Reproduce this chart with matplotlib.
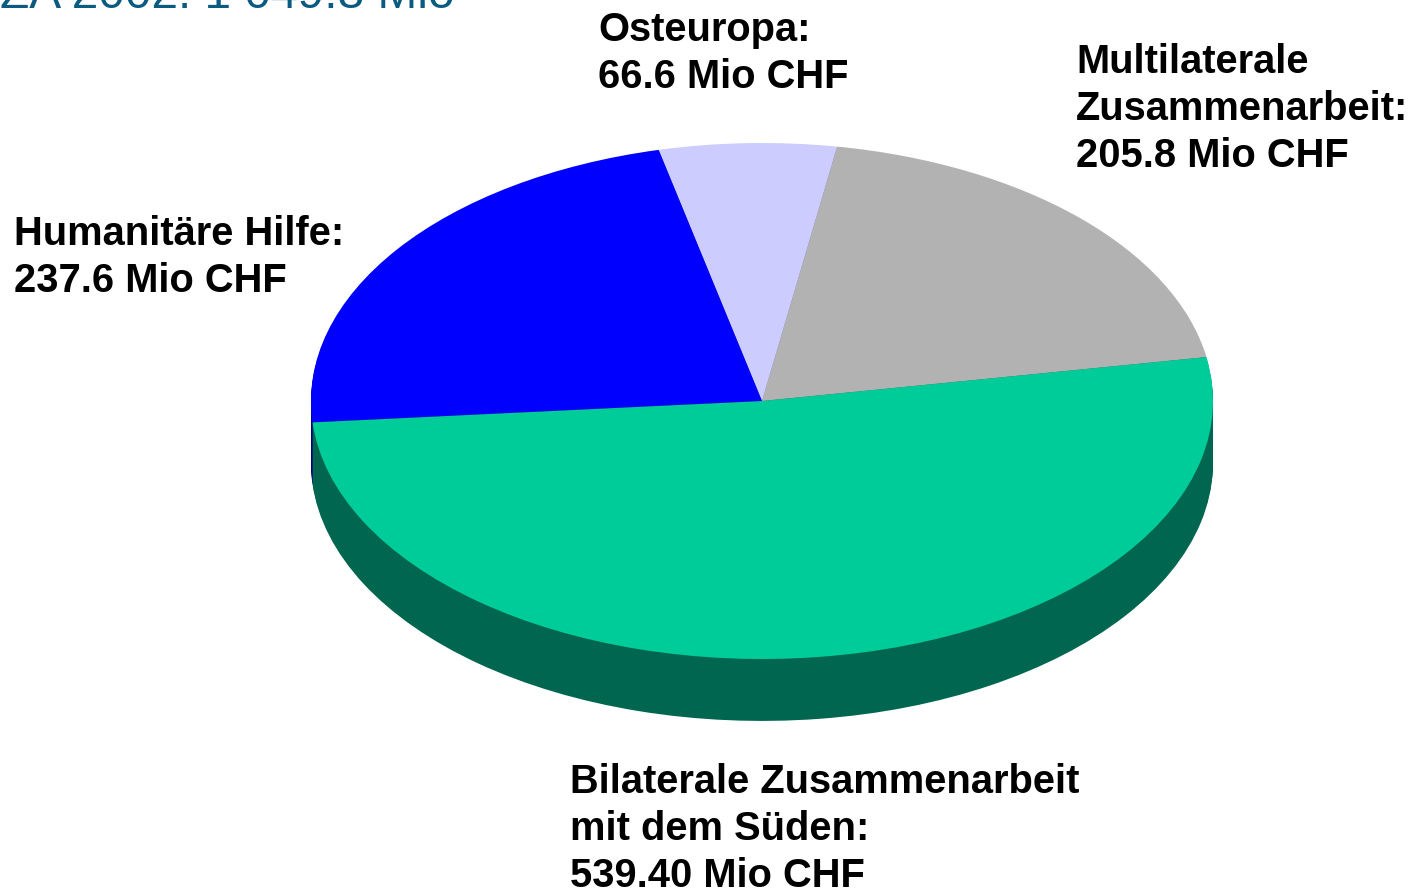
import numpy as np
import matplotlib.pyplot as plt

plt.rcParams["font.family"] = ["Liberation Sans", "DejaVu Sans"]

# Data (Mio CHF), counter-clockwise order starting from the right
labels = ["Multilaterale\nZusammenarbeit:\n205.8 Mio CHF",
          "Osteuropa:\n66.6 Mio CHF",
          "Humanitäre Hilfe:\n237.6 Mio CHF",
          "Bilaterale Zusammenarbeit\nmit dem Süden:\n539.40 Mio CHF"]
values = [205.8, 66.6, 237.6, 539.4]
top_colors = ["#b2b2b2", "#ccccff", "#0000ff", "#00cc99"]
side_colors = ["#5a5a5a", "#66667f", "#000080", "#006650"]
title = "ZA 2002: 1 049.8 Mio"

W, H = 1427, 893
fig = plt.figure(figsize=(W / 100, H / 100), dpi=100)
ax = fig.add_axes([0, 0, 1, 1])

# pseudo-3D: stack of darker pies for the side, then the top face
depth = 0.24
for off in np.linspace(-depth, -0.005, 40):
    ax.pie(values, colors=side_colors, startangle=9.8, counterclock=True,
           center=(0, off), radius=1, wedgeprops=dict(linewidth=0))
ax.pie(values, colors=top_colors, startangle=9.8, counterclock=True,
       center=(0, 0), radius=1, wedgeprops=dict(linewidth=0))

cx, cy, rx, ry = 762, 492, 451, 258
ax.set_aspect("auto")
ax.set_xlim(-cx / rx, (W - cx) / rx)
ax.set_ylim(-cy / ry, (H - cy) / ry)
ax.axis("off")

fs = 28.7
lab_pos = [(1076, 43), (598, 11), (14, 215), (570, 763)]
for text, (x, y) in zip(labels, lab_pos):
    fig.text(x / W, 1 - y / H, text, fontsize=fs, fontweight="bold",
             va="top", ha="left", linespacing=1.3, color="black")

fig.text(0.0, 1 - 8 / H, title, fontsize=34.5, color="#0b5a80",
         va="baseline", ha="left")

fig.savefig("out.png", dpi=100)
